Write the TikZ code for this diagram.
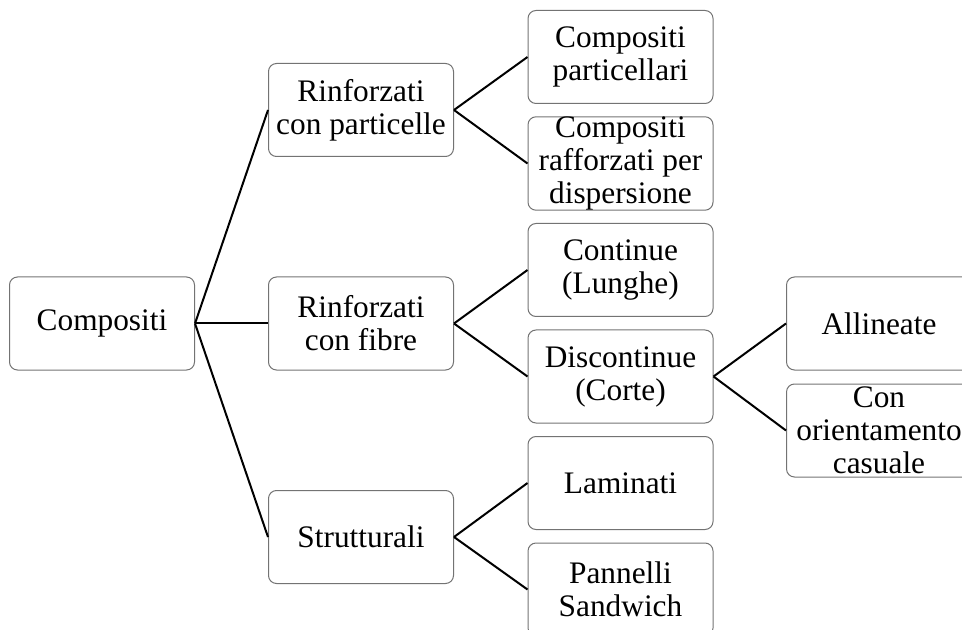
\documentclass[tikz,border=0pt]{standalone}
\usepackage{fontspec}
\setmainfont{Liberation Serif}

\tikzset{
    ramo/.style={draw=black!55, line width=0.75pt, rounded corners=6pt,
        minimum width=138.75pt, minimum height=69.75pt, inner sep=0pt,
        align=center, font=\fontsize{23.5}{24.75}\selectfont},
    link/.style={line width=1.5pt}
}

\begin{document}
\begin{tikzpicture}[x=0.75pt,y=-0.75pt]
    \useasboundingbox (0,0) rectangle (962,630);
    \clip (0,0) rectangle (962,630);

    \def\colA{102}
    \def\colB{361}
    \def\colC{620.5}
    \def\colD{879}

    % radice e primo livello
    \node[ramo] (comp) at (\colA,323.5) {Compositi};
    \node[ramo] (partic) at (\colB,110) {Rinforzati\\con particelle};
    \node[ramo] (fibre) at (\colB,323.5) {Rinforzati\\con fibre};
    \node[ramo] (strutt) at (\colB,537) {Strutturali};

    % secondo livello
    \node[ramo] (cpart) at (\colC,57) {Compositi\\particellari};
    \node[ramo] (cdisp) at (\colC,163.5) {Compositi\\rafforzati per\\dispersione};
    \node[ramo] (cont) at (\colC,270) {Continue\\(Lunghe)};
    \node[ramo] (discont) at (\colC,376.5) {Discontinue\\(Corte)};
    \node[ramo] (lamin) at (\colC,483) {Laminati};
    \node[ramo] (sandw) at (\colC,589.5) {Pannelli\\Sandwich};

    % terzo livello
    \node[ramo] (allin) at (\colD,323.5) {Allineate};
    \node[ramo] (casual) at (\colD,430.5) {Con\\orientamento\\casuale};

    \foreach \a/\b in {comp/partic, comp/fibre, comp/strutt,
                       partic/cpart, partic/cdisp, fibre/cont, fibre/discont,
                       strutt/lamin, strutt/sandw, discont/allin, discont/casual} {
        \draw[link] (\a.east) -- (\b.west);
    }

\end{tikzpicture}
\end{document}
